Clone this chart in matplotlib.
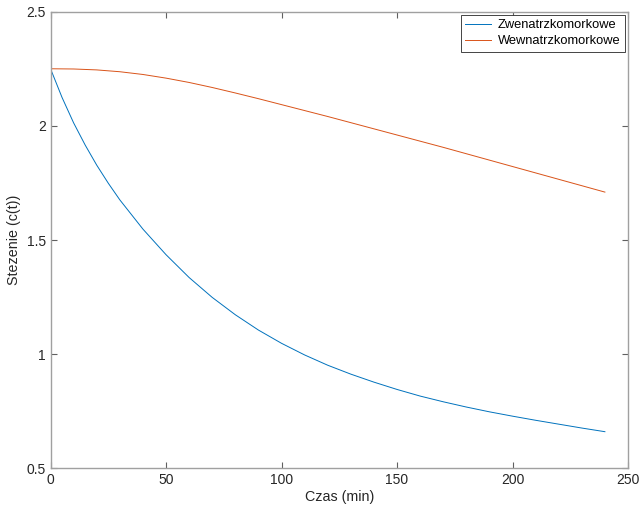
import matplotlib.pyplot as plt

plt.rcParams["font.family"] = ["Liberation Sans", "DejaVu Sans"]

# Czas (min) i odczytane stezenia
t_zew = [0, 5, 10, 15, 20, 25, 30, 40, 50, 60, 70, 80, 90, 100, 110, 120, 130,
         140, 150, 160, 170, 180, 190, 200, 210, 220, 230, 240]
c_zew = [2.25, 2.124, 2.013, 1.916, 1.828, 1.749, 1.676, 1.548, 1.436, 1.336,
         1.249, 1.173, 1.106, 1.048, 0.997, 0.952, 0.913, 0.878, 0.846, 0.817,
         0.792, 0.769, 0.748, 0.729, 0.711, 0.694, 0.677, 0.661]

t_wew = [0, 10, 20, 30, 40, 50, 60, 70, 80, 90, 100, 110, 120, 130, 140, 150,
         160, 170, 180, 190, 200, 210, 220, 230, 240]
c_wew = [2.25, 2.249, 2.245, 2.237, 2.225, 2.209, 2.19, 2.168, 2.144, 2.119, 2.093,
         2.067, 2.041, 2.014, 1.987, 1.96, 1.933, 1.906, 1.878, 1.85, 1.822,
         1.794, 1.766, 1.738, 1.71]

fig = plt.figure(figsize=(6.42, 5.07), dpi=100)
ax = fig.add_axes([0.0787, 0.076, 0.8995, 0.901])

ax.plot(t_zew, c_zew, color="#0072BD", lw=0.7, label="Zwenatrzkomorkowe")
ax.plot(t_wew, c_wew, color="#D95319", lw=0.7, label="Wewnatrzkomorkowe")

ax.set_xlim(0, 250)
ax.set_ylim(0.5, 2.5)
ax.set_xticks([0, 50, 100, 150, 200, 250])
ax.set_yticks([0.5, 1, 1.5, 2, 2.5])
ax.set_yticklabels(["0.5", "1", "1.5", "2", "2.5"])

for s in ax.spines.values():
    s.set_color("#a0a0a0")
    s.set_linewidth(1.0)
ax.tick_params(direction="in", top=True, right=True, length=4, color="#606060",
               labelcolor="#262626", labelsize=10)

ax.set_xlabel("Czas (min)", fontsize=10.3, color="#262626", labelpad=2)
ax.set_ylabel("Stezenie (c(t))", fontsize=10.3, color="#262626", labelpad=4)

leg = ax.legend(loc="upper right", fontsize=9.3, fancybox=False, framealpha=1,
                borderaxespad=0.25, handlelength=2.0, handletextpad=0.5,
                labelspacing=0.3, borderpad=0.35)
leg.get_frame().set_edgecolor("#262626")
leg.get_frame().set_linewidth(0.6)

fig.savefig("out.png", dpi=100)
